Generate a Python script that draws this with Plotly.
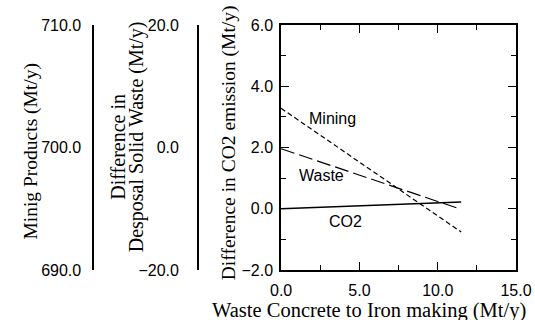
import plotly.graph_objects as go

# Data
x_vals = [0.0, 11.5]
co2_diff = [0.0, 0.22]            # Difference in CO2 emission (Mt/y)
mining_products = [703.2, 693.1]  # Minig Products (Mt/y)
waste_diff = [-0.2, -10.1]        # Difference in Desposal Solid Waste (Mt/y)

x_ticks = [0, 5, 10, 15]
co2_ticks = [-2, 0, 2, 4, 6]
mining_ticks = [690, 700, 710]
waste_ticks = [-20, 0, 20]
mining_range = [690, 710]
waste_range = [-20, 20]

W, H = 535, 320
ML, MR, MT, MB = 0, 19, 25, 50
PW = W - ML - MR
PH = H - MT - MB
x_left_px = 276
mining_px = 85
waste_px = 192
x_min, x_max = 0, 15
px_per_unit = (ML + PW - x_left_px) / (x_max - x_min)

SANS = "Liberation Sans, Arial, sans-serif"
SERIF = "Liberation Serif, Times New Roman, serif"
tickfont = dict(family=SANS, size=16, color="black")

fig = go.Figure()
fig.add_trace(go.Scatter(x=x_vals, y=co2_diff, mode="lines",
                         line=dict(color="black", width=1.3), xaxis="x", yaxis="y", showlegend=False))
fig.add_trace(go.Scatter(x=x_vals, y=mining_products, mode="lines",
                         line=dict(color="black", width=1.2, dash="5px,3px"), xaxis="x2", yaxis="y2",
                         showlegend=False))
fig.add_trace(go.Scatter(x=x_vals, y=waste_diff, mode="lines",
                         line=dict(color="black", width=1.2, dash="14px,5px"), xaxis="x3", yaxis="y3",
                         showlegend=False))

common = dict(showgrid=False, zeroline=False, showline=True, linecolor="black", linewidth=1.6,
              ticks="inside", ticklen=8, tickwidth=1.4, tickcolor="black",
              tickfont=tickfont, tickformat=".1f")


def minor(d, t="inside"):
    return dict(dtick=d, ticks=t, ticklen=5, tickwidth=1.2, tickcolor="black")


def blank_x(domain, anchor, rng):
    return dict(visible=True, showline=False, showticklabels=False, ticks="", showgrid=False,
                zeroline=False, domain=domain, range=rng, anchor=anchor, fixedrange=True)


def data_x(px, anchor):
    # blank x axis from an extra y axis to the right edge, same scale as the main x axis
    lo = x_min - (x_left_px - px) / px_per_unit
    return blank_x([(px - ML) / PW, 1], anchor, [lo, x_max])


def label_axis(rng, ticks, anchor, standoff):
    # extra y axis: line and tick labels on the left
    return dict(range=rng, tickvals=ticks, anchor=anchor, side="left", showgrid=False,
                zeroline=False, showline=True, linecolor="black", linewidth=1.6, ticks="",
                tickfont=tickfont, tickformat=".1f", ticklabelstandoff=standoff)


def tick_axis(rng, ticks, overlay, anchor, mdt):
    # companion axis on the same line, drawing the tick marks to the right
    return dict(range=rng, tickvals=ticks, overlaying=overlay, anchor=anchor, side="right",
                showgrid=False, zeroline=False, showline=False, showticklabels=False,
                ticks="outside", ticklen=8, tickwidth=1.4, tickcolor="black",
                minor=minor(mdt, "outside"))


fig.update_layout(
    width=W, height=H,
    margin=dict(l=ML, r=MR, t=MT, b=MB),
    paper_bgcolor="white", plot_bgcolor="rgba(0,0,0,0)",
    xaxis=dict(domain=[(x_left_px - ML) / PW, 1], range=[x_min, x_max], tickvals=x_ticks,
               mirror="ticks", ticklabelstandoff=5, minor=minor(2.5), anchor="y", **common),
    xaxis2=data_x(mining_px, "y2"),
    xaxis3=data_x(waste_px, "y3"),
    xaxis4=blank_x([0, (mining_px - ML) / PW], "y4", [0, 1]),
    xaxis5=blank_x([0, (waste_px - ML) / PW], "y5", [0, 1]),
    yaxis=dict(range=[-2, 6], tickvals=co2_ticks, mirror="ticks", ticklabelstandoff=3,
               anchor="x", minor=minor(1), **common),
    yaxis2=label_axis(mining_range, mining_ticks, "x2", 8),
    yaxis3=label_axis(waste_range, waste_ticks, "x3", 15),
    yaxis4=tick_axis(mining_range, mining_ticks, "y2", "x4", 5),
    yaxis5=tick_axis(waste_range, waste_ticks, "y3", "x5", 10),
)

annos = [
    dict(text="Waste Concrete to Iron making (Mt/y)", x=366, y=310, angle=0, size=20.5),
    dict(text="Difference in CO2 emission (Mt/y)", x=223, y=143, angle=-90, size=19.5),
    dict(text="Minig Products (Mt/y)", x=20, y=151, angle=-90, size=19.5),
    dict(text="Difference in", x=109, y=147, angle=-90, size=20),
    dict(text="Desposal Solid Waste (Mt/y)", x=128, y=137, angle=-90, size=20),
]
for a in annos:
    fig.add_annotation(text=a["text"], x=(a["x"] - ML) / PW, y=(H - a["y"] - MB) / PH,
                       xref="paper", yref="paper", showarrow=False, textangle=a["angle"],
                       font=dict(family=SERIF, size=a["size"], color="black"),
                       xanchor="center", yanchor="middle")

lab_font = dict(family=SANS, size=16, color="black")
fig.add_annotation(text="Mining", x=3.3, y=2.96, xref="x", yref="y", showarrow=False, font=lab_font)
fig.add_annotation(text="Waste", x=2.6, y=1.1, xref="x", yref="y", showarrow=False, font=lab_font)
fig.add_annotation(text="CO2", x=4.1, y=-0.43, xref="x", yref="y", showarrow=False, font=lab_font)

fig.write_html("out.html")
